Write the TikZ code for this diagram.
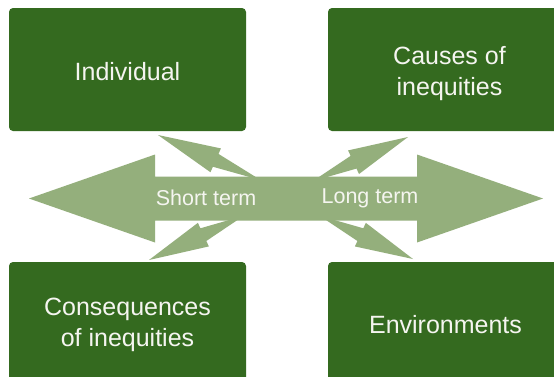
\documentclass[tikz,border=0pt]{standalone}
\usepackage{fontspec}
\setmainfont{Liberation Sans}
\usetikzlibrary{calc}
\definecolor{boxgreen}{RGB}{52,106,31}
\definecolor{arrowgreen}{RGB}{148,175,124}
\definecolor{txt}{RGB}{245,245,240}
% single arrow polygon: #1 start, #2 tip, #3 head length, #4 head half width, #5 shaft half width
\newcommand\garrow[5]{%
  \fill[arrowshape] (#2)
    -- ($($(#2)!#3!(#1)$)!#4!-90:(#2)$)
    -- ($($(#2)!#3!(#1)$)!#5!-90:(#2)$)
    -- ($(#1)!#5!90:(#2)$)
    -- ($(#1)!#5!-90:(#2)$)
    -- ($($(#2)!#3!(#1)$)!#5!90:(#2)$)
    -- ($($(#2)!#3!(#1)$)!#4!90:(#2)$)
    -- cycle;}
\begin{document}
\begin{tikzpicture}[x=1pt,y=-1pt,
  boxnode/.style={fill=boxgreen,rounded corners=4pt,minimum width=237pt,minimum height=123pt,
    inner sep=0pt,text=txt,align=center,font=\fontsize{25}{31}\selectfont},
  boxtext/.style={boxnode,fill=none,minimum width=0pt,minimum height=0pt},
  arrowshape/.style={fill=arrowgreen},
  termlabel/.style={text=txt,inner sep=0pt,font=\fontsize{21.5}{25}\selectfont}]
\useasboundingbox (0,0) rectangle (554,376);
\clip (0,0) rectangle (554,376);
\fill[white] (0,0) rectangle (554,376);
% boxes
\node[boxnode] (ind) at (127.5,69.5) {};
\node[boxnode] (cau) at (446.5,69.5) {};
\node[boxnode] (con) at (127.5,323.5) {};
\node[boxnode] (env) at (446.5,323.5) {};
\node[boxtext] (indt) at ($(ind.center)+(0,2)$) {Individual};
\node[boxtext] (caut) at ($(cau.center)+(3,4)$) {Causes of\\inequities};
\node[boxtext] (cont) at ($(con.center)+(0,1)$) {Consequences\\of inequities};
\node[boxtext] (envt) at ($(env.center)+(-1,1)$) {Environments};
% arrow ends
\coordinate (la) at (29,198.5);
\coordinate (ra) at (543,198.5);
\coordinate (tl) at (158,135);
\coordinate (tr) at (408,137);
\coordinate (bl) at (149,260);
\coordinate (br) at (413,259);
\coordinate (ctl) at (306,200);
\coordinate (ctr) at (272,200);
\coordinate (cbl) at (284,197);
\coordinate (cbr) at (279,197);
% diagonal arrows
\garrow{ctl}{tl}{63pt}{13pt}{7pt}
\garrow{ctr}{tr}{60pt}{13pt}{7pt}
\garrow{cbl}{bl}{60pt}{13pt}{7pt}
\garrow{cbr}{br}{58pt}{13pt}{7pt}
% horizontal double arrow
\fill[arrowshape] (la) -- ($(la)+(126,-44)$) -- ($(la)+(126,-22)$)
  -- ($(ra)+(-126,-22)$) -- ($(ra)+(-126,-44)$) -- (ra)
  -- ($(ra)+(-126,44)$) -- ($(ra)+(-126,22)$)
  -- ($(la)+(126,22)$) -- ($(la)+(126,44)$) -- cycle;
\node[termlabel] (st) at (206,198) {Short term};
\node[termlabel] (lt) at (370,198) {Long term};
\end{tikzpicture}
\end{document}
